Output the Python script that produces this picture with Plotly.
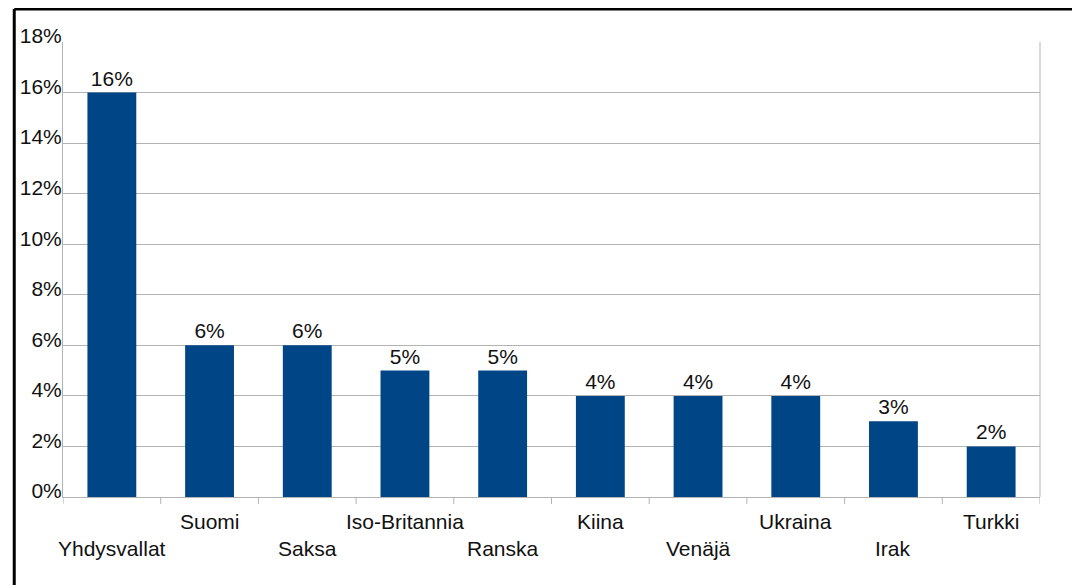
import plotly.graph_objects as go

countries = ["Yhdysvallat", "Suomi", "Saksa", "Iso-Britannia", "Ranska",
             "Kiina", "Venäjä", "Ukraina", "Irak", "Turkki"]
shares = [16, 6, 6, 5, 5, 4, 4, 4, 3, 2]
tick_vals = [0, 2, 4, 6, 8, 10, 12, 14, 16, 18]
tick_text = [f"{v}%" for v in tick_vals]

# page body adds an 8px offset, so the figure is sized to fit the remaining area
W, H = 1072, 577
L, R, T, B = 50, 40, 34, 88
pw, ph = W - L - R, H - T - B

fig = go.Figure(go.Bar(
    x=countries, y=shares,
    marker=dict(color="#004586", line=dict(width=0)),
    text=[f"{v}%" for v in shares], textposition="outside",
    textfont=dict(size=21, color="#111111"),
    cliponaxis=False,
))

# staggered category labels (LibreOffice style)
for i, c in enumerate(countries):
    fig.add_annotation(x=c, xref="x", y=0, yref="paper", yanchor="top",
                       yshift=-11 if i % 2 else -38, text=c, showarrow=False,
                       font=dict(size=21, color="#111111"))

# outer frame (left and top edges visible)
fx = (1 - L) / pw
fy = (ph + T - 1) / ph
fig.add_shape(type="line", xref="paper", yref="paper", x0=fx, x1=fx,
              y0=-0.3, y1=fy, line=dict(color="black", width=3))
fig.add_shape(type="line", xref="paper", yref="paper", x0=fx, x1=1.1,
              y0=fy, y1=fy, line=dict(color="black", width=3))

fig.update_layout(
    width=W, height=H,
    margin=dict(l=L, r=R, t=T, b=B),
    paper_bgcolor="white", plot_bgcolor="white",
    font=dict(family="Liberation Sans, Arial, sans-serif", size=21, color="#111111"),
    bargap=0.5, showlegend=False,
    xaxis=dict(showticklabels=False, showline=True, linecolor="#b3b3b3",
               ticks="", range=[-0.5, 9.5]),
    yaxis=dict(range=[0, 18], tickvals=tick_vals, ticktext=tick_text,
               showgrid=True, gridcolor="#b3b3b3", gridwidth=1,
               showline=True, linecolor="#b3b3b3", zeroline=False,
               ticks="", ticklabelstandoff=-4, ticklabelshift=-6),
)
# right border of plot area
fig.add_shape(type="line", xref="paper", yref="paper", x0=1, x1=1, y0=0, y1=1,
              line=dict(color="#b3b3b3", width=1))
# category separator tick marks below the axis
for k in range(11):
    fig.add_shape(type="line", xref="x", yref="paper", x0=k - 0.5, x1=k - 0.5,
                  y0=0, y1=-7 / ph, line=dict(color="#b3b3b3", width=1))

fig.write_html("out.html")
